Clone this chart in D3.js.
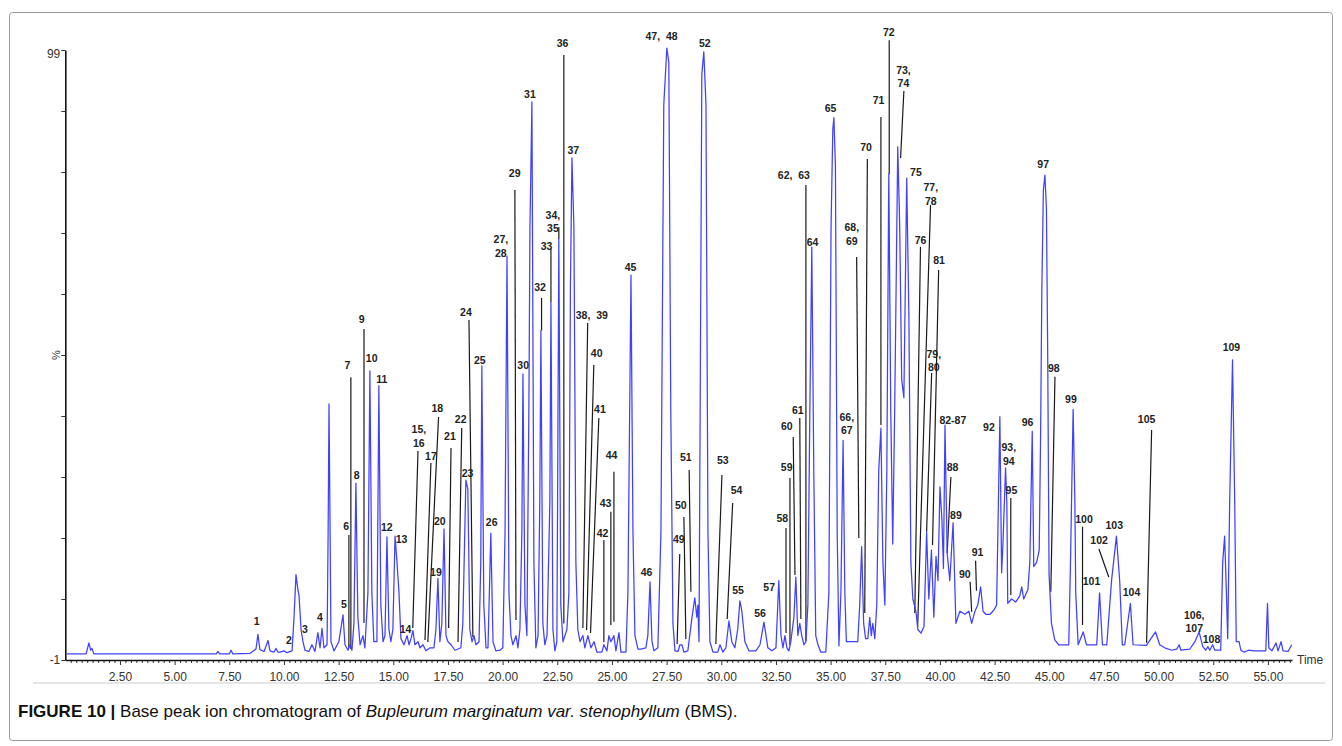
<!DOCTYPE html>
<html>
<head>
<meta charset="utf-8">
<script src="https://cdn.jsdelivr.net/npm/d3@7"></script>
<style>
  body { margin: 0; background: #fff; }
  svg { display: block; font-family: Arial, 'Liberation Sans', sans-serif; }
  .peak-label { font-size: 10.5px; font-weight: bold; fill: #222; white-space: pre; }
  .axis text { font-size: 12px; fill: #333; }
</style>
</head>
<body>
<div id="chart"></div>
<script>
// Data
// chromatogram trace, [retention time (min), relative abundance (%)]
const trace = [
  [0.08, 0], [0.95, 0], [1.08, 1.8], [1.16, 0.6], [1.22, 0.9], [1.3, 0],
  [6.9, 0], [6.98, 0.4], [7.06, 0], [7.5, 0], [7.58, 0.6], [7.66, 0],
  [8.45, 0.1], [8.72, 0.8], [8.81, 3.2], [8.9, 0.7], [9.09, 0.4], [9.27, 2.2], [9.36, 0.5], [9.55, 0.3],
  [9.63, 0.9], [9.72, 0.3], [9.82, 0.3], [10.0, 0.5], [10.14, 0.2], [10.37, 0.5], [10.46, 6], [10.55, 13],
  [10.62, 11], [10.69, 9.5], [10.78, 4], [10.87, 2.0], [10.96, 0.6], [11.14, 0.4], [11.28, 1.5], [11.42, 0.4],
  [11.55, 3.5], [11.65, 1], [11.74, 4.2], [11.83, 1], [11.97, 1.5], [12.02, 20], [12.06, 41], [12.11, 20],
  [12.15, 2], [12.29, 0.5], [12.51, 2], [12.7, 6.4], [12.79, 1.5], [12.93, 0.6], [13.02, 1.5], [13.11, 0.6],
  [13.2, 5], [13.29, 28], [13.38, 6], [13.48, 1.5], [13.61, 3], [13.7, 1], [13.84, 10], [13.93, 46.4],
  [14.02, 10], [14.11, 2], [14.25, 2], [14.34, 44], [14.43, 8], [14.53, 2], [14.62, 3], [14.71, 19.2],
  [14.8, 4], [14.89, 2], [14.98, 4], [15.08, 19.3], [15.17, 15], [15.26, 10], [15.35, 2.5], [15.49, 1.5],
  [15.63, 3], [15.72, 1.5], [15.81, 2.5], [15.9, 3.8], [15.99, 1.5], [16.13, 2], [16.22, 1], [16.36, 1.5],
  [16.49, 0.5], [16.68, 1], [16.86, 1], [16.95, 4], [17.04, 12.4], [17.13, 2], [17.22, 5], [17.32, 20.5],
  [17.41, 3], [17.5, 2], [17.64, 1.5], [17.82, 0.6], [17.96, 0.8], [18.09, 1], [18.18, 5], [18.32, 28.5],
  [18.41, 27], [18.5, 4], [18.6, 2], [18.69, 3], [18.78, 1.5], [18.92, 2], [19.0, 15], [19.05, 47.2],
  [19.14, 8], [19.24, 1], [19.33, 1], [19.46, 19.8], [19.56, 2], [19.69, 0.5], [19.88, 0.6], [20.01, 1],
  [20.11, 20], [20.2, 65.2], [20.29, 10], [20.38, 3], [20.47, 1.5], [20.61, 3], [20.7, 1], [20.79, 4],
  [20.88, 20], [20.93, 45.9], [21.02, 8], [21.11, 3], [21.2, 40], [21.25, 70], [21.34, 90.5], [21.43, 15],
  [21.52, 1], [21.62, 3], [21.7, 25], [21.75, 53], [21.84, 5], [21.93, 1.5], [22.03, 3], [22.16, 25],
  [22.21, 57.7], [22.3, 4], [22.39, 0.5], [22.48, 2], [22.52, 30], [22.57, 68], [22.66, 8], [22.76, 2],
  [22.85, 3], [22.94, 4], [23.03, 10], [23.1, 60], [23.17, 81.3], [23.26, 70], [23.35, 15], [23.44, 4],
  [23.54, 2], [23.67, 3], [23.76, 1], [23.9, 3], [24.04, 1], [24.18, 2], [24.31, 0.3], [24.54, 0.3],
  [24.63, 1.5], [24.77, 0.5], [24.86, 3], [24.95, 2], [25.09, 3], [25.18, 0.5], [25.32, 3.5], [25.41, 0.3],
  [25.64, 0.3], [25.73, 10], [25.87, 62.1], [25.96, 20], [26.05, 3], [26.19, 0.8], [26.32, 0.8], [26.55, 1],
  [26.64, 3], [26.74, 11.8], [26.83, 2], [26.92, 0.5], [27.1, 1], [27.24, 20], [27.37, 90], [27.51, 99.3],
  [27.6, 97], [27.69, 40], [27.79, 5], [27.88, 0.5], [28.02, 0.4], [28.11, 1.5], [28.2, 1.5], [28.29, 0.3],
  [28.47, 0.5], [28.66, 6], [28.79, 9.2], [28.88, 6], [28.93, 8], [28.98, 2], [29.02, 30], [29.11, 95],
  [29.2, 98.7], [29.3, 90], [29.39, 20], [29.48, 2], [29.62, 0.3], [29.84, 0.3], [29.94, 1.5], [30.07, 0.3],
  [30.21, 1], [30.35, 5.4], [30.48, 2], [30.62, 1], [30.75, 4], [30.85, 8.7], [30.94, 7], [31.08, 2],
  [31.26, 0.5], [31.58, 0.5], [31.77, 1.5], [31.95, 5.2], [32.13, 1], [32.31, 0.5], [32.5, 1], [32.63, 12],
  [32.73, 3], [32.82, 1], [32.91, 3], [33.0, 1], [33.09, 0.5], [33.18, 2], [33.32, 6], [33.41, 12.6],
  [33.5, 3], [33.59, 5], [33.68, 3], [33.78, 1.5], [33.87, 2], [33.96, 8], [34.05, 40], [34.14, 66.7],
  [34.23, 30], [34.32, 3], [34.42, 1.5], [34.55, 0.3], [34.78, 0.3], [34.92, 10], [35.02, 70], [35.1, 86],
  [35.15, 87.9], [35.22, 80], [35.3, 20], [35.38, 1.3], [35.47, 10], [35.57, 35], [35.65, 10], [35.72, 2],
  [36.24, 2], [36.33, 8], [36.42, 17.6], [36.51, 5], [36.6, 2.5], [36.7, 2.5], [36.79, 6], [36.86, 3],
  [36.93, 5], [37.02, 2.5], [37.11, 8], [37.2, 30], [37.3, 37], [37.39, 15], [37.48, 8], [37.57, 30],
  [37.66, 78.7], [37.75, 40], [37.84, 18], [37.93, 40], [38.07, 83.1], [38.16, 70], [38.25, 45], [38.35, 42],
  [38.48, 78], [38.58, 55], [38.67, 15], [38.76, 9], [38.9, 7], [38.99, 4], [39.13, 3.4], [39.27, 4.5],
  [39.39, 20], [39.49, 9], [39.61, 17], [39.72, 6], [39.82, 16], [39.91, 12], [40.0, 27.4], [40.09, 22],
  [40.16, 14], [40.23, 37.5], [40.33, 16.5], [40.45, 12], [40.6, 21.5], [40.73, 5], [40.91, 7], [41.14, 6.5],
  [41.32, 7], [41.45, 5], [41.6, 7], [41.73, 8], [41.86, 11], [41.97, 7], [42.1, 6.5], [42.29, 6.5],
  [42.47, 7.2], [42.59, 8], [42.65, 20], [42.74, 38.9], [42.82, 13.3], [42.88, 18], [43.0, 30.5], [43.06, 24.7],
  [43.1, 8.3], [43.28, 9], [43.46, 8.5], [43.65, 9.5], [43.74, 11], [43.83, 9], [44.02, 10.5], [44.11, 15],
  [44.22, 36.5], [44.29, 14.3], [44.42, 15], [44.54, 17], [44.6, 35], [44.66, 60], [44.73, 76], [44.8, 78.5],
  [44.87, 73], [44.93, 48], [44.99, 13], [45.1, 5], [45.25, 2.3], [45.43, 1.5], [45.89, 1.5], [45.97, 15],
  [46.09, 40.1], [46.17, 25], [46.21, 10], [46.32, 1.5], [46.55, 3.6], [46.7, 1.5], [47.17, 1.5], [47.3, 10],
  [47.43, 1.5], [47.63, 1.5], [47.85, 12.1], [48.07, 19.3], [48.22, 12], [48.34, 1.5], [48.45, 1.5], [48.71, 8.3],
  [48.83, 1.5], [49.44, 1.4], [49.86, 3.6], [50.05, 1.5], [50.28, 1], [50.6, 0.6], [50.83, 0.8], [50.94, 1.5],
  [51.02, 0.6], [51.43, 0.8], [51.66, 2], [51.85, 3.6], [52.02, 1.2], [52.15, 0.6], [52.25, 1.2], [52.34, 0.6],
  [52.47, 1.5], [52.57, 0.6], [52.84, 0.6], [52.93, 15], [53.02, 19.3], [53.1, 10], [53.16, 2.5], [53.25, 25],
  [53.38, 48.2], [53.48, 25], [53.55, 2], [53.68, 2], [53.76, 0.6], [53.9, 0.3], [54.12, 0.6], [54.35, 0.5],
  [54.9, 0.5], [54.98, 8.3], [55.04, 1], [55.18, 0.5], [55.37, 1.8], [55.46, 0.5], [55.6, 2], [55.69, 0.5],
  [55.92, 0.4], [56.09, 1.5],
];

// peak numbers: [text, time, abundance] (label centre)
const peakLabels = [
  ['1', 8.75, 5.28], ['2', 10.23, 2.28], ['3', 10.96, 4.03], ['4', 11.65, 5.93], ['5', 12.74, 8.18],
  ['6', 12.84, 20.85], ['7', 12.9, 47.36], ['8', 13.32, 29.33], ['9', 13.55, 54.9], ['10', 14.01, 48.46],
  ['11', 14.47, 45.0], ['12', 14.7, 20.69], ['13', 15.38, 18.79], ['14', 15.56, 4.08], ['15,\n16', 16.17, 36.82],
  ['17', 16.72, 32.33], ['18', 17.01, 40.25], ['19', 16.95, 13.31], ['20', 17.13, 21.67], ['21', 17.59, 35.61],
  ['22', 18.08, 38.51], ['23', 18.4, 29.6], ['24', 18.32, 56.05], ['25', 18.96, 48.07], ['26', 19.5, 21.51],
  ['27,\n28', 19.92, 67.97], ['29', 20.55, 78.84], ['30', 20.94, 47.36], ['31', 21.25, 91.79], ['32', 21.71, 60.15],
  ['33', 22.01, 66.8], ['34,\n35', 22.3, 71.95], ['36', 22.74, 100.15], ['37', 23.23, 82.6], ['38,  39', 24.08, 55.56],
  ['40', 24.3, 49.33], ['41', 24.45, 40.15], ['42', 24.57, 19.82], ['43', 24.71, 24.74], ['44', 24.98, 32.49],
  ['45', 25.85, 63.38], ['46', 26.58, 13.31], ['47,  48', 27.27, 101.3], ['49', 28.06, 18.84], ['50', 28.15, 24.3],
  ['51', 28.38, 32.16], ['52', 29.25, 100.1], ['53', 30.07, 31.67], ['54', 30.7, 26.75], ['55', 30.77, 10.48],
  ['56', 31.77, 6.66], ['57', 32.19, 10.97], ['58', 32.79, 22.16], ['59', 32.99, 30.64], ['60', 33.0, 37.36],
  ['61', 33.5, 39.87], ['62,  63', 33.32, 78.39], ['64', 34.17, 67.41], ['65', 35.0, 89.38], ['66,\n67', 35.74, 38.84],
  ['68,\n69', 35.97, 69.93], ['70', 36.62, 82.98], ['71', 37.19, 90.7], ['72', 37.66, 101.9], ['73,\n74', 38.33, 95.72],
  ['75', 38.9, 78.95], ['76', 39.11, 67.74], ['77,\n78', 39.58, 76.49], ['79,\n80', 39.72, 49.16], ['81', 39.96, 64.46],
  ['82-87', 40.59, 38.34], ['88', 40.58, 30.52], ['89', 40.73, 22.77], ['90', 41.14, 13.1], ['91', 41.72, 16.7],
  ['92', 42.24, 37.2], ['93,\n94', 43.15, 33.8], ['95', 43.27, 26.87], ['96', 44.01, 38.02], ['97', 44.72, 80.31],
  ['98', 45.21, 46.87], ['99', 45.99, 41.74], ['100', 46.59, 22.06], ['101', 46.93, 11.95], ['102', 47.28, 18.67],
  ['103', 47.97, 21.13], ['104', 48.76, 10.03], ['105', 49.45, 38.51], ['106,\n107', 51.63, 6.38], ['108', 52.42, 2.44],
  ['109', 53.33, 50.26],
];

// leader lines from label to peak: [time1, abundance1, time2, abundance2]
const leaderLines = [
  [12.97, 19.5, 12.97, 1.0], [13.06, 45.34, 13.06, 0.8], [13.66, 53.26, 13.66, 5.07],
  [16.13, 33.26, 15.89, 4.25], [16.72, 31.3, 16.45, 2.28], [17.07, 38.84, 16.58, 1.95],
  [17.64, 33.75, 17.53, 4.25], [18.13, 37.03, 17.96, 1.95], [18.46, 54.74, 18.64, 2.77],
  [20.56, 76.05, 20.61, 5.56], [21.78, 58.34, 21.78, 53], [22.21, 66.4, 22.21, 57.7],
  [22.57, 70, 22.57, 68], [22.8, 98.18, 22.8, 5], [23.89, 54.25, 23.67, 4.25],
  [24.17, 47.36, 23.84, 3.92], [24.4, 38.67, 24.02, 3.43], [24.63, 18.67, 24.63, 1.95],
  [24.95, 23.31, 24.95, 4.74], [25.09, 29.87, 25.09, 5.28], [28.1, 16.38, 27.98, 1.62],
  [28.29, 22.44, 28.38, 2.44], [28.53, 30.15, 28.61, 10.2], [30.03, 29.33, 29.75, 1.62],
  [30.52, 24.74, 30.27, 5.72], [32.96, 20.64, 32.96, 3.43], [33.14, 28.84, 33.14, 1.46],
  [33.29, 35.56, 33.37, 12.93], [33.59, 38.67, 33.64, 5.72], [33.87, 76.87, 33.87, 2.11],
  [36.19, 65.07, 36.29, 19.0], [36.68, 81.13, 36.56, 6.7], [37.3, 88.02, 37.3, 37.52],
  [37.68, 100.6, 37.68, 78.67], [38.35, 92.28, 38.2, 81.3], [39.11, 66.75, 38.85, 6.7],
  [39.57, 73.59, 38.98, 4.41], [39.62, 46.05, 39.39, 20.03], [39.94, 62.93, 39.66, 17.85],
  [40.5, 29.0, 40.33, 16.54], [41.38, 11.84, 41.45, 6.92], [41.63, 15.28, 41.67, 10.36],
  [43.24, 25.56, 43.24, 9.66], [45.26, 45.44, 45.07, 10.2], [46.52, 20.85, 46.52, 4.74],
  [47.27, 17.2, 47.72, 12.61], [49.68, 36.7, 49.45, 1.84],
];

const xTicks = [2.5, 5, 7.5, 10, 12.5, 15, 17.5, 20, 22.5, 25, 27.5, 30, 32.5, 35, 37.5, 40, 42.5, 45, 47.5, 50, 52.5, 55];
const yTicks = [-1, 9, 19, 29, 39, 49, 59, 69, 79, 89, 99];
const yTickLabels = { '-1': '-1', 99: '99' };

const width = 1342;
const height = 746;

const svg = d3
  .select('#chart')
  .append('svg')
  .attr('width', width)
  .attr('height', height);

// figure frame
svg
  .append('rect')
  .attr('x', 9.5)
  .attr('y', 12.5)
  .attr('width', 1323)
  .attr('height', 728)
  .attr('rx', 3)
  .attr('fill', 'none')
  .attr('stroke', '#9a9a9a');

// scales
const xScale = d3.scaleLinear().domain([0, 56.1]).range([65.3, 1292]);
const yScale = d3.scaleLinear().domain([-1, 99]).range([660, 50]);

// minor x ticks
const minorTicks = d3.range(0.25, 56.01, 0.25).filter((t) => Math.abs(t / 2.5 - Math.round(t / 2.5)) > 0.01);
svg
  .append('g')
  .attr('transform', 'translate(0, 660)')
  .call(d3.axisBottom(xScale).tickValues(minorTicks).tickSize(3).tickSizeOuter(0).tickFormat(''))
  .call((g) => g.select('.domain').remove())
  .selectAll('line')
  .attr('stroke', '#333');

// x axis
const gx = svg
  .append('g')
  .attr('class', 'axis')
  .attr('transform', 'translate(0, 660)')
  .call(d3.axisBottom(xScale).tickValues(xTicks).tickSize(5).tickSizeOuter(0).tickFormat(d3.format('.2f')));
gx.select('.domain').attr('stroke', '#111').attr('stroke-width', 1.6);
gx.selectAll('.tick line').attr('stroke', '#333');
gx.selectAll('text').attr('dy', '1.05em');

// y axis
const gy = svg
  .append('g')
  .attr('class', 'axis')
  .attr('transform', 'translate(65.3, 0)')
  .call(
    d3
      .axisLeft(yScale)
      .tickValues(yTicks)
      .tickSize(4)
      .tickSizeOuter(0)
      .tickFormat((d) => yTickLabels[d] || ''),
  );
gy.select('.domain').attr('stroke', '#111').attr('stroke-width', 1.6);
gy.selectAll('.tick line').attr('stroke', '#333');
gy.selectAll('text').attr('x', -5);
gy.selectAll('.tick')
  .filter((d) => d === 99)
  .select('text')
  .attr('dy', '0.6em');

// y axis name
svg
  .append('text')
  .attr('transform', `translate(60, ${yScale(49)}) rotate(-90)`)
  .attr('text-anchor', 'middle')
  .style('font-size', '11px')
  .style('fill', '#333')
  .text('%');

// x axis name
svg
  .append('text')
  .attr('x', 1297)
  .attr('y', 664)
  .style('font-size', '12px')
  .style('fill', '#333')
  .text('Time');

// separator under the chart
svg
  .append('line')
  .attr('x1', 33)
  .attr('x2', 1325)
  .attr('y1', 683)
  .attr('y2', 683)
  .attr('stroke', '#e6e6e6')
  .attr('stroke-width', 2);

// leader lines
svg
  .append('g')
  .selectAll('line')
  .data(leaderLines)
  .join('line')
  .attr('x1', (d) => xScale(d[0]))
  .attr('y1', (d) => yScale(d[1]))
  .attr('x2', (d) => xScale(d[2]))
  .attr('y2', (d) => yScale(d[3]))
  .attr('stroke', '#1a1a1a')
  .attr('stroke-width', 1.2);

// chromatogram
const line = d3
  .line()
  .x((d) => xScale(d[0]))
  .y((d) => yScale(d[1]));

svg
  .append('path')
  .datum(trace)
  .attr('d', line)
  .attr('fill', 'none')
  .attr('stroke', '#4040ff')
  .attr('stroke-width', 1.25)
  .attr('stroke-linejoin', 'round');

// peak labels
const labels = svg
  .append('g')
  .selectAll('text')
  .data(peakLabels)
  .join('text')
  .attr('class', 'peak-label')
  .attr('text-anchor', 'middle')
  .attr('x', (d) => xScale(d[1]))
  .attr('y', (d) => yScale(d[2]))
  .attr('dy', '0.35em');

labels
  .selectAll('tspan')
  .data((d) => d[0].split('\n').map((s) => ({ s, x: xScale(d[1]) })))
  .join('tspan')
  .attr('x', (d) => d.x)
  .attr('dy', (d, i) => (i === 0 ? '0.35em' : '1.3em'))
  .text((d) => d.s);

// caption
const caption = svg
  .append('text')
  .attr('x', 18)
  .attr('y', 717)
  .style('font-size', '17px')
  .style('fill', '#111');
caption.append('tspan').style('font-weight', 'bold').text('FIGURE 10 | ');
caption.append('tspan').text('Base peak ion chromatogram of ');
caption.append('tspan').style('font-style', 'italic').text('Bupleurum marginatum var. stenophyllum');
caption.append('tspan').text(' (BMS).');
</script>
</body>
</html>
